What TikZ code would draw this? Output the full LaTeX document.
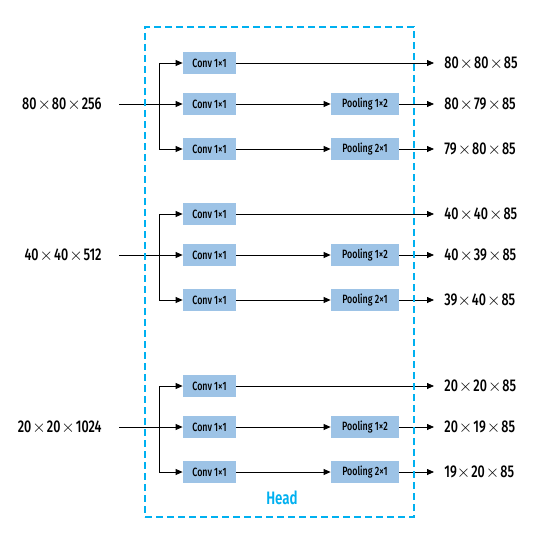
\documentclass[tikz,border=0pt]{standalone}
\usepackage{fontspec}
\setmainfont{Fira Sans}[FakeStretch=0.74, UprightFont=* Medium, BoldFont=* SemiBold]
\usepackage{tikz}
\usetikzlibrary{arrows.meta, positioning, calc}
\definecolor{headblue}{HTML}{00B0F0}
\definecolor{boxblue}{HTML}{9DC3E6}
\newcommand{\by}{\hspace{1pt}$\times$\hspace{1pt}}

\begin{document}
\begin{tikzpicture}[x=1pt, y=-1pt, >={Triangle[length=7pt, width=6pt]},
  line width=0.8pt,
  conv/.style={rectangle, fill=boxblue, minimum width=53pt, minimum height=22pt,
               inner sep=0pt, font=\fontsize{12}{14}\selectfont},
  pool/.style={conv, minimum width=68pt},
  dim/.style={inner sep=0pt, font=\fontsize{17}{19}\selectfont},
  headbox/.style={draw=headblue, line width=1.5pt, dash pattern=on 7pt off 4pt,
                  minimum width=269pt, minimum height=490pt},
  outarr/.style={->, shorten >=10pt}]
  \useasboundingbox (0,0) rectangle (544,538);
  \foreach \b/\g/\din/\oa/\ob/\oc in {
      63/1/{80\by80\by256}/{80\by80\by85}/{80\by79\by85}/{79\by80\by85},
      214/2/{40\by40\by512}/{40\by40\by85}/{40\by39\by85}/{39$\times$\hspace{1pt}40\by85},
      386/3/{20\by20\by1024}/{20\by20\by85}/{20\by19\by85}/{19$\times$\hspace{1pt}20\by85}}{
    \node[conv] (ca\g) at (209.5,\b) {Conv 1×1};
    \node[conv] (cb\g) at (209.5,\b+41) {Conv 1×1};
    \node[conv] (cc\g) at (209.5,\b+86) {Conv 1×1};
    \node[pool] (pb\g) at (365,\b+41) {Pooling 1×2};
    \node[pool] (pc\g) at (365,\b+86) {Pooling 2×1};
    \node[dim, anchor=east] (in\g) at (102,\b+41) {\din};
    \node[dim, anchor=west] (oa\g) at (444,\b) {\oa};
    \node[dim, anchor=west] (ob\g) at (444,\b+41) {\ob};
    \node[dim, anchor=west] (oc\g) at (444,\b+86) {\oc};
    % split the input into three branches
    \coordinate (s\g) at ([xshift=17pt]in\g.east);
    \coordinate (j\g) at (159,\b+41);
    \draw[->] (s\g) -- (cb\g.west);
    \draw[->] (j\g) |- (ca\g.west);
    \draw[->] (j\g) |- (cc\g.west);
    \draw[->] (cb\g) -- (pb\g);
    \draw[->] (cc\g) -- (pc\g);
    \draw[outarr] (ca\g) -- (oa\g);
    \draw[outarr] (pb\g) -- (ob\g);
    \draw[outarr] (pc\g) -- (oc\g);
  }
  \node[headbox] (head) at (279.5,272) {};
  \node[text=headblue, font=\fontsize{18}{20}\selectfont\bfseries] (headlbl) at (282,498) {Head};
\end{tikzpicture}
\end{document}
